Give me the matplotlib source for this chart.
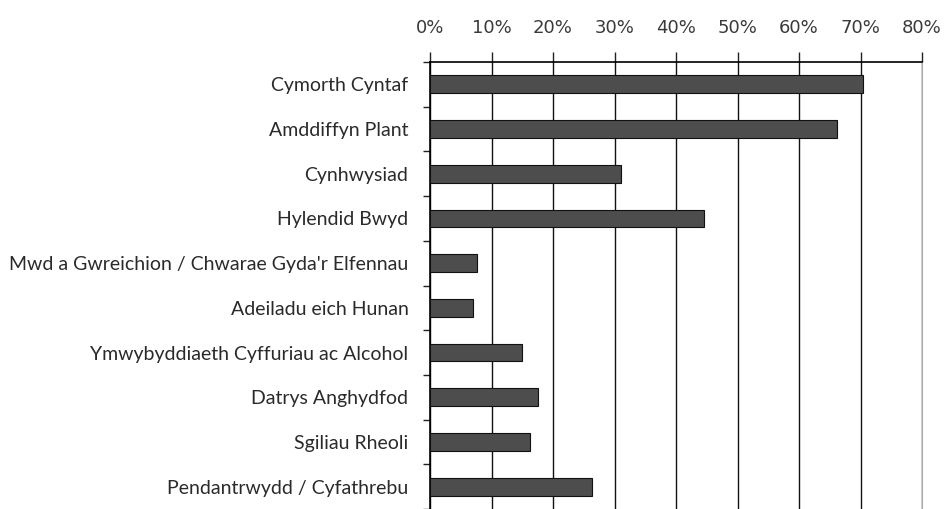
import matplotlib
matplotlib.use("Agg")
import matplotlib.pyplot as plt
from matplotlib.ticker import FixedLocator, FuncFormatter

categories = [
    "Cymorth Cyntaf",
    "Amddiffyn Plant",
    "Cynhwysiad",
    "Hylendid Bwyd",
    "Mwd a Gwreichion / Chwarae Gyda'r Elfennau",
    "Adeiladu eich Hunan",
    "Ymwybyddiaeth Cyffuriau ac Alcohol",
    "Datrys Anghydfod",
    "Sgiliau Rheoli",
    "Pendantrwydd / Cyfathrebu",
]
values = [70.4, 66.2, 31.0, 44.5, 7.6, 7.0, 15.0, 17.6, 16.3, 26.4]
xticks = [0, 10, 20, 30, 40, 50, 60, 70, 80]

fig = plt.figure(figsize=(9.48, 5.09), dpi=100)
ax = fig.add_axes([430 / 948, 0.0, (922 - 430) / 948, 1 - 62 / 509])

y = list(range(len(categories)))
ax.barh(y, values, height=0.4, color="#4d4d4d", edgecolor="#111111", linewidth=0.8, zorder=3)

ax.set_xlim(0, 80)
ax.set_ylim(len(categories) - 0.5, -0.5)

ax.xaxis.set_ticks_position("top")
ax.xaxis.set_label_position("top")
ax.set_xticks(xticks)
ax.xaxis.set_major_formatter(FuncFormatter(lambda v, p: f"{int(v)}%"))
ax.tick_params(axis="x", direction="out", length=7, width=1, colors="#222222",
               labelsize=13, labelcolor="#3a3a3a", pad=11)

ax.set_yticks(y)
ax.set_yticklabels(categories, fontsize=14, family="Lato", color="#2a2a2a")
ax.tick_params(axis="y", which="major", length=0, pad=15.5)
ax.yaxis.set_minor_locator(FixedLocator([i + 0.5 for i in range(-1, len(categories))]))
ax.tick_params(axis="y", which="minor", length=5, width=1, color="#222222")

ax.grid(axis="x", color="#111111", linewidth=1.0, zorder=0)
ax.spines["bottom"].set_visible(False)
ax.spines["right"].set_color("#aaaaaa")
ax.spines["top"].set_linewidth(1.2)
ax.spines["left"].set_linewidth(1.2)

fig.savefig("out.png", dpi=100)
